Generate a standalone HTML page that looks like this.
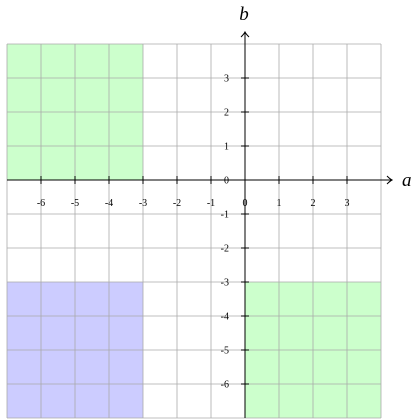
<!DOCTYPE html>
<html><head><meta charset="utf-8"><style>
html,body{margin:0;padding:0;background:#fff;}
svg{display:block;font-family:"Liberation Serif",serif;}
</style></head><body>
<svg id="chart" width="420" height="420" viewBox="0 0 420 420"></svg>
<script>
const xTicks=[-6,-5,-4,-3,-2,-1,0,1,2,3];
const yTicks=[-6,-5,-4,-3,-2,-1,0,1,2,3];
const regionX0=[-7,-7,0];
const regionX1=[-3,-3,4];
const regionY0=[0,-7,-7];
const regionY1=[4,-3,-3];
const regionColors=['#ccffcc','#ccccff','#ccffcc'];
const regionNames=['region-top-left','region-bottom-left','region-bottom-right'];
const xMin=-7,xMax=4,yMin=-7,yMax=4;
const U=34, X0=245, Y0=180;
const sx=v=>X0+v*U, sy=v=>Y0-v*U;
const NS='http://www.w3.org/2000/svg';
const svg=document.getElementById('chart');
function mk(t,a,p){const e=document.createElementNS(NS,t);for(const k in a)e.setAttribute(k,a[k]);(p||svg).appendChild(e);return e;}
for(let i=0;i<regionX0.length;i++){
  const r=mk('rect',{x:sx(regionX0[i]),y:sy(regionY1[i]),width:sx(regionX1[i])-sx(regionX0[i]),height:sy(regionY0[i])-sy(regionY1[i]),fill:regionColors[i]});
  
  
}
const grid=mk('g',{stroke:'#aaaaaa','stroke-width':0.8,fill:'none'});


for(let v=xMin;v<=xMax;v++) mk('line',{x1:sx(v),x2:sx(v),y1:sy(yMax),y2:sy(yMin)},grid);
for(let v=yMin;v<=yMax;v++) mk('line',{y1:sy(v),y2:sy(v),x1:sx(xMin),x2:sx(xMax)},grid);
const ax=mk('g',{stroke:'#000','stroke-width':1,fill:'none'});


mk('line',{x1:sx(xMin),x2:392,y1:Y0,y2:Y0},ax);
mk('path',{d:'M387,176 Q390,179 392,180 Q390,181 387,184'},ax);
mk('line',{x1:X0,x2:X0,y1:sy(yMin),y2:32},ax);
mk('path',{d:'M241,37 Q244,34 245,32 Q246,34 249,37'},ax);
for(const v of xTicks){
  mk('line',{x1:sx(v),x2:sx(v),y1:Y0-4,y2:Y0+4},ax);
  const t=mk('text',{x:sx(v),y:Y0+26,'font-size':10,'text-anchor':'middle',fill:'#000'});
  t.textContent=v;
  
  
}
for(const v of yTicks){
  mk('line',{x1:X0-4,x2:X0+4,y1:sy(v),y2:sy(v)},ax);
  const t=mk('text',{x:X0-16,y:sy(v)+3.5,'font-size':10,'text-anchor':'end',fill:'#000'});
  t.textContent=v;
  
  
}
const la=mk('text',{x:402,y:186,'font-size':19,'font-style':'italic',fill:'#000'});la.textContent='a';


const lb=mk('text',{x:244,y:20,'font-size':19,'font-style':'italic','text-anchor':'middle',fill:'#000'});lb.textContent='b';


</script>
</body></html>
